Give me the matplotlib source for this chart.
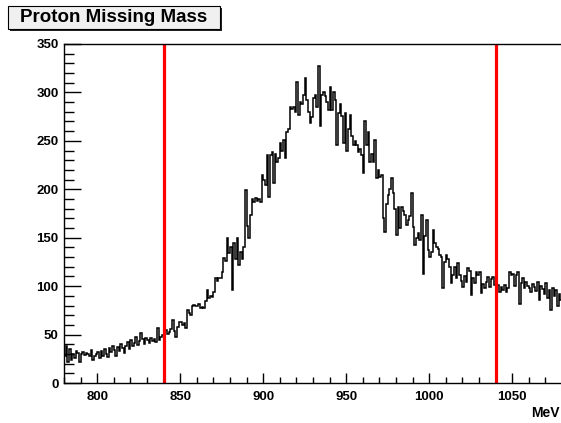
import matplotlib
matplotlib.use("Agg")
import matplotlib.pyplot as plt
from matplotlib.patches import Rectangle
from matplotlib.ticker import MultipleLocator
import numpy as np

plt.rcParams['font.family'] = ['Liberation Sans', 'DejaVu Sans']

# histogram binning (1 MeV bins)
x_min, x_max = 780, 1080
# counts per bin, 10 bins per row
counts = [
    28, 38, 22, 35, 24, 30, 26, 33, 31, 22,
    30, 32, 29, 31, 30, 28, 34, 24, 28, 30,
    32, 26, 33, 28, 35, 30, 27, 36, 32, 38,
    34, 28, 37, 33, 40, 36, 31, 38, 42, 35,
    44, 38, 41, 47, 39, 43, 52, 45, 40, 46,
    44, 41, 46, 43, 45, 42, 57, 44, 47, 50,
    52, 55, 51, 53, 56, 65, 54, 48, 58, 63,
    63, 60, 62, 57, 75, 72, 70, 80, 81, 79,
    80, 82, 77, 78, 77, 85, 96, 88, 90, 89,
    94, 108, 105, 108, 108, 115, 129, 126, 150, 134,
    140, 96, 145, 128, 150, 122, 135, 128, 140, 199,
    162, 150, 173, 190, 187, 191, 188, 190, 187, 215,
    210, 204, 235, 192, 235, 238, 206, 236, 228, 232,
    248, 240, 251, 232, 259, 262, 285, 283, 285, 280,
    311, 277, 290, 288, 297, 315, 292, 280, 268, 275,
    294, 297, 285, 327, 265, 297, 300, 296, 290, 282,
    306, 282, 300, 292, 246, 279, 288, 276, 248, 279,
    240, 262, 277, 255, 246, 250, 246, 238, 242, 235,
    217, 270, 246, 259, 228, 236, 228, 251, 212, 220,
    213, 215, 170, 156, 185, 194, 200, 212, 196, 180,
    153, 182, 160, 182, 178, 173, 163, 168, 172, 196,
    161, 142, 150, 155, 148, 173, 113, 152, 168, 137,
    130, 135, 158, 145, 140, 138, 132, 130, 98, 125,
    132, 128, 120, 103, 112, 120, 108, 124, 111, 105,
    99, 110, 104, 119, 116, 91, 108, 103, 115, 112,
    115, 93, 102, 98, 104, 109, 99, 107, 109, 101,
    96, 101, 94, 99, 96, 101, 94, 98, 115, 112,
    113, 100, 111, 115, 82, 103, 108, 98, 104, 100,
    98, 94, 102, 99, 95, 104, 86, 100, 97, 92,
    103, 88, 96, 75, 98, 90, 96, 80, 92, 86,
]
cut_lines = [840, 1040]
x_ticks = [800, 850, 900, 950, 1000, 1050]
y_ticks = [0, 50, 100, 150, 200, 250, 300, 350]

W, H = 561, 423
fig = plt.figure(figsize=(W / 100, H / 100), dpi=100)
fig.patch.set_facecolor('white')
ax = fig.add_axes([64 / W, 40 / H, 498 / W, 339 / H])

edges = np.arange(x_min, x_max + 1, 1)
ax.stairs(counts, edges, color='black', linewidth=1.1)

for xc in cut_lines:
    ax.axvline(xc, color='red', linewidth=2.3)

ax.set_xlim(x_min, x_max)
ax.set_ylim(0, 350)
ax.set_xticks(x_ticks)
ax.set_yticks(y_ticks)
ax.xaxis.set_minor_locator(MultipleLocator(10))
ax.yaxis.set_minor_locator(MultipleLocator(10))
ax.tick_params(axis='x', which='major', direction='in', length=7, width=1,
               labelsize=9.5, pad=6)
ax.tick_params(axis='x', which='minor', direction='in', length=4, width=1)
ax.tick_params(axis='y', which='major', direction='in', length=12, width=1,
               labelsize=9.5, pad=4)
ax.tick_params(axis='y', which='minor', direction='in', length=7, width=1)
for lab in ax.get_xticklabels() + ax.get_yticklabels():
    lab.set_fontweight('bold')
ax.spines['right'].set_visible(False)
for s in ['left', 'top', 'bottom']:
    ax.spines[s].set_linewidth(1)

# x axis unit, clipped by the canvas edge like the original
fig.text(531 / W, 1 - 413 / H, 'MeV', fontsize=10, fontweight='bold',
         ha='left', va='center')

# title box with shadow
fig.patches.append(Rectangle((10 / W, 1 - 31 / H), 212 / W, 23 / H,
                             transform=fig.transFigure, facecolor='#222222',
                             edgecolor='none', zorder=1))
fig.patches.append(Rectangle((8 / W, 1 - 29 / H), 212 / W, 23 / H,
                             transform=fig.transFigure, facecolor='#f0f0f0',
                             edgecolor='black', linewidth=0.8, zorder=2))
fig.text(114 / W, 1 - 17.5 / H, 'Proton Missing Mass', fontsize=13.5,
         fontweight='bold', ha='center', va='center', zorder=3)

fig.savefig('out.png', dpi=100)
